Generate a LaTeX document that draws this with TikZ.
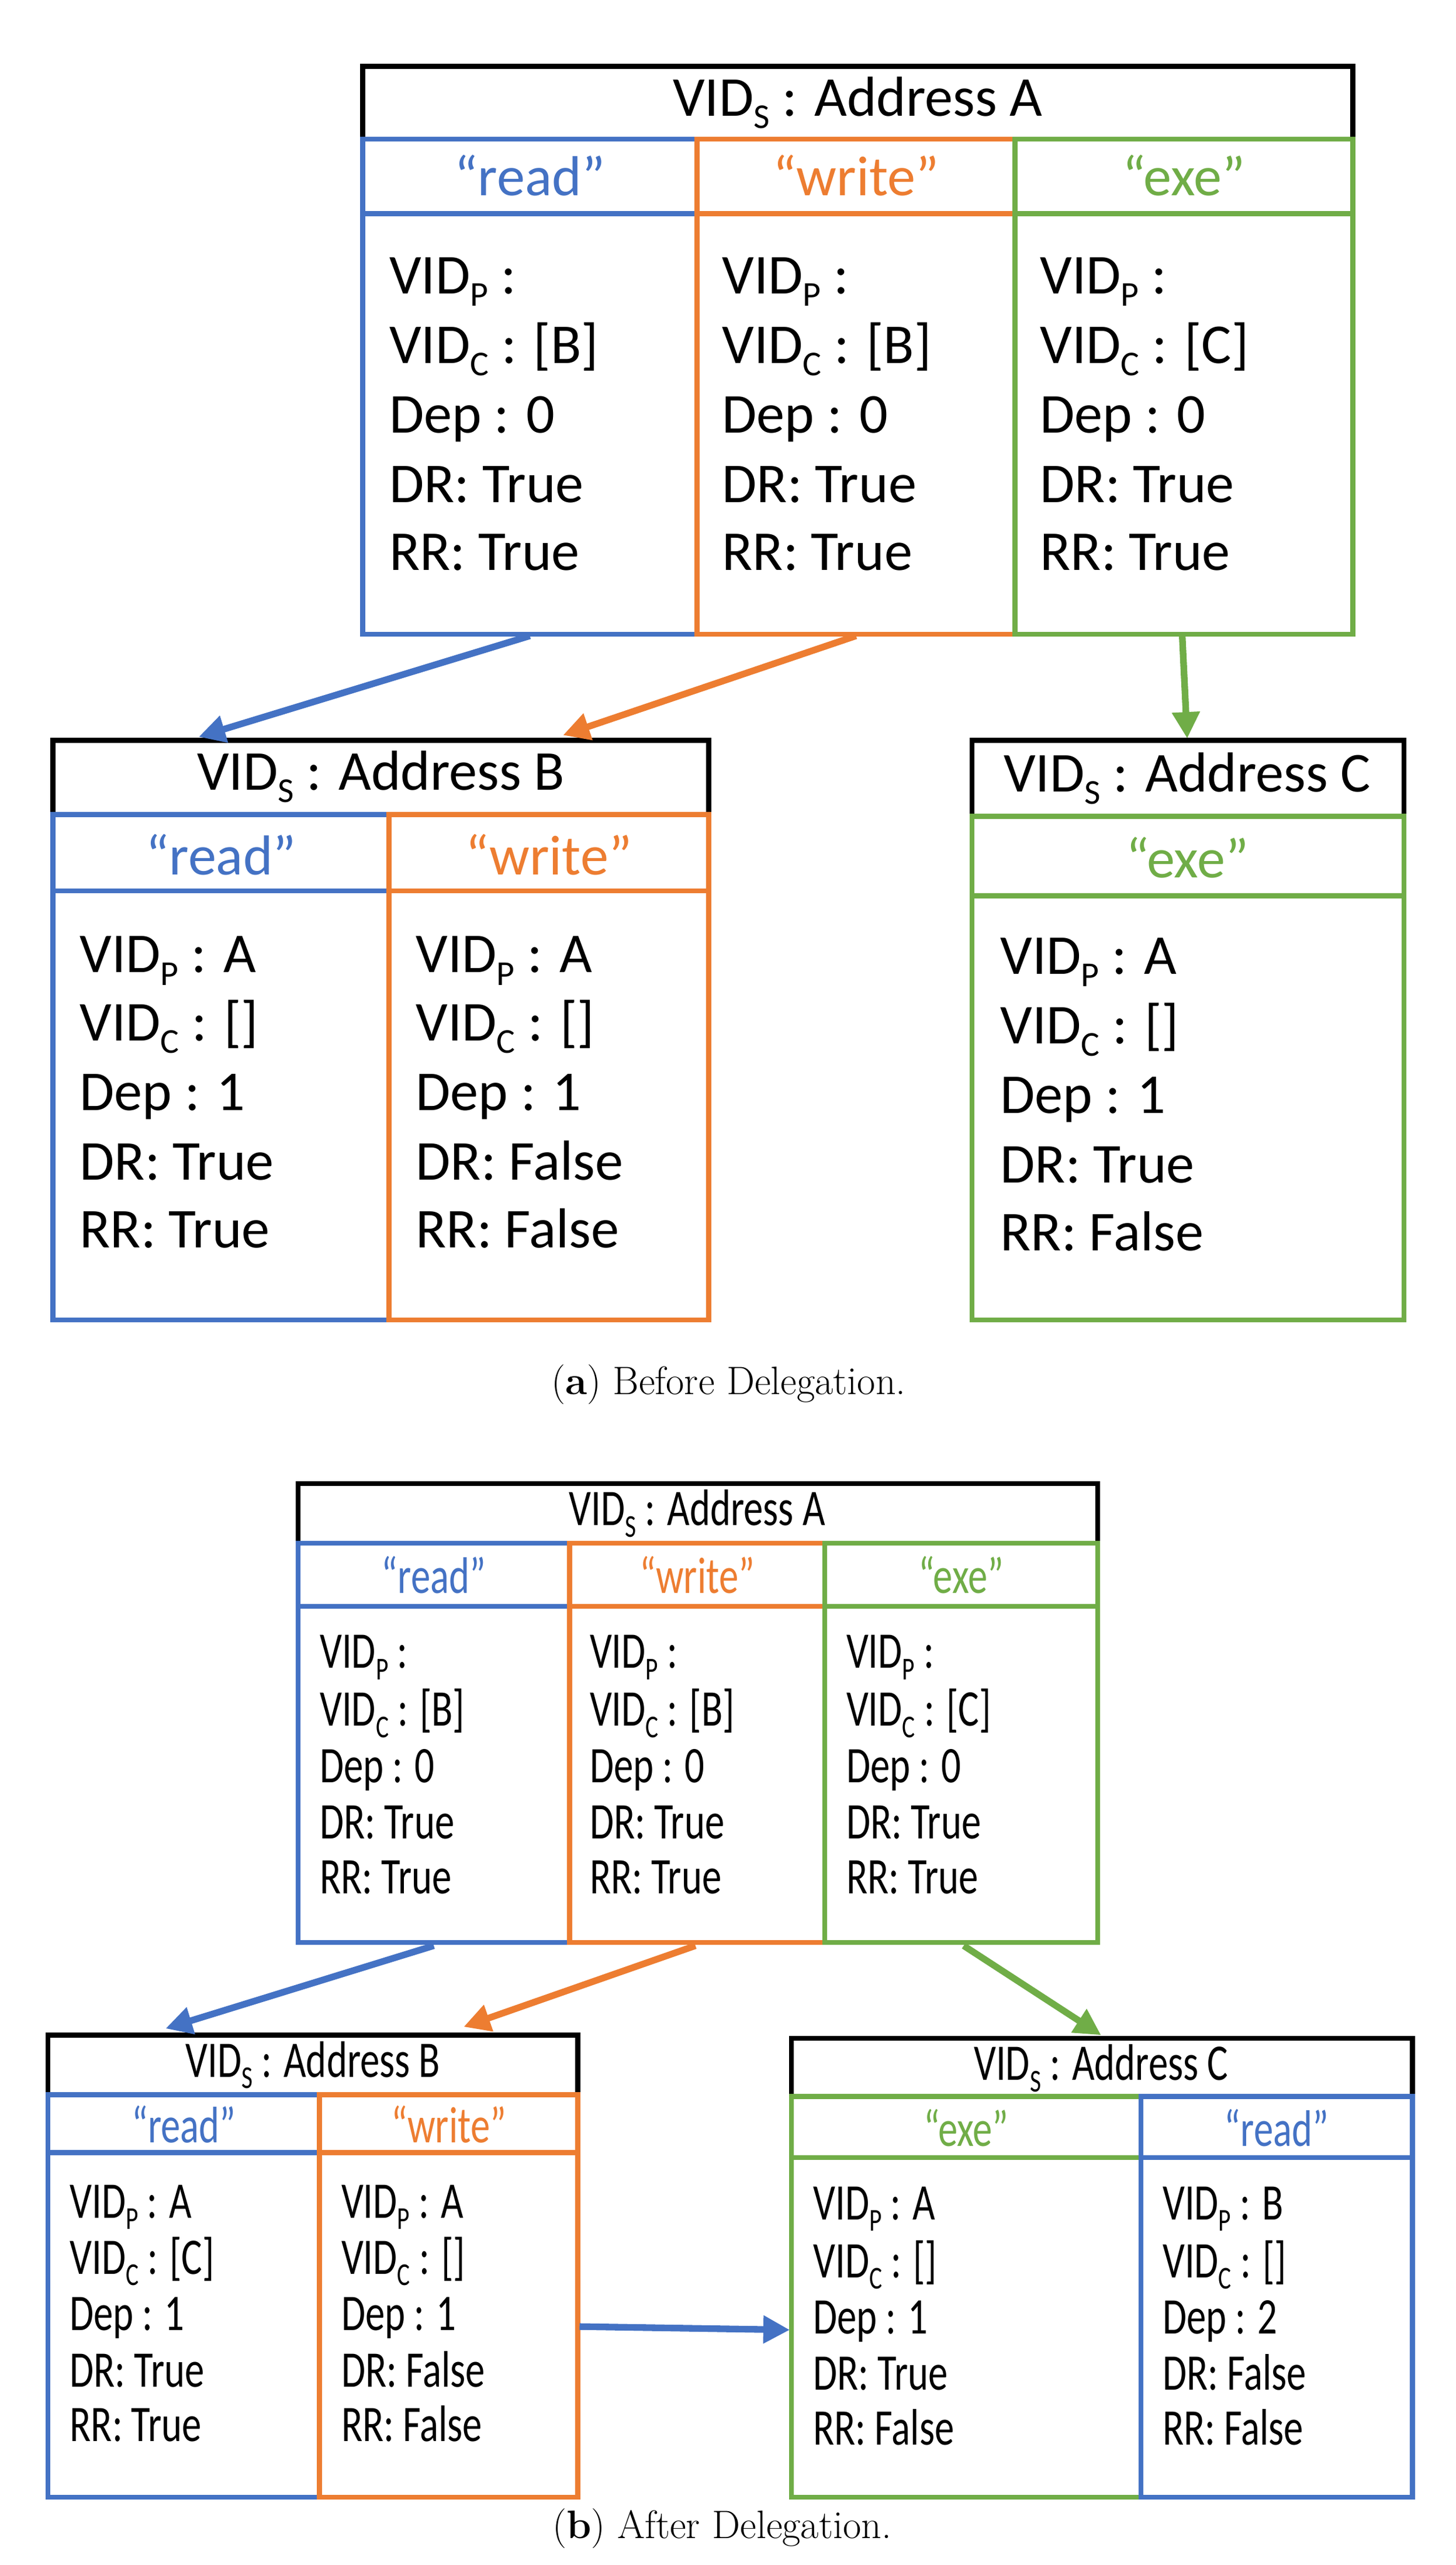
\documentclass[tikz,border=0pt]{standalone}
\usepackage{fontspec}
\setmainfont{Carlito}
\newfontfamily\condf{Carlito}[FakeStretch=0.76]
\newfontfamily\capf{Latin Modern Roman}
\usetikzlibrary{fit,arrows.meta}
\definecolor{cb}{HTML}{4472C4}
\definecolor{co}{HTML}{ED7D31}
\definecolor{cg}{HTML}{70AD47}
\newcommand\mysub[1]{\raisebox{-0.22em}{\scalebox{0.62}{#1}}}
\begin{document}
\begin{tikzpicture}[x=1pt,y=-1pt,
  box/.style={draw=#1,line width=3pt,inner sep=0pt},
  ta/.style={inner sep=0pt,font=\fontsize{34}{40}\selectfont},
  tb/.style={inner sep=0pt,font=\fontsize{31}{36}\condf},
  arr/.style={draw=#1,line width=4pt,-{Triangle[length=16pt,width=16pt]},color=#1}]
\useasboundingbox (0,0) rectangle (879,1549);
% ---------- (a) ----------
\node[box=black,fit={(219,40)(817,84)}] (aAt) {};
\node[ta] (aAtt) at (518,62) {VID\mysub{S} : Address A};
\foreach \n/\c/\xa/\xb/\h in {R/cb/219/421/read,W/co/421/613/write,E/cg/613/817/exe}{
  \node[box=\c,fit={(\xa,84)(\xb,129)}] (aAh\n) {};
  \node[ta,text=\c] (aAht\n) at ({(\xa+\xb)/2},106) {“\h”};
  \node[box=\c,fit={(\xa,129)(\xb,383)}] (aAb\n) {};
}
\foreach \x/\n/\v in {235/R/{[B]},436/W/{[B]},628/E/{[C]}}{
  \node[ta,anchor=mid west] (aA1\n) at (\x,175) {VID\mysub{P} :};
  \node[ta,anchor=mid west] (aA2\n) at (\x,217) {VID\mysub{C} : \v};
  \node[ta,anchor=mid west] (aA3\n) at (\x,259) {Dep : 0};
  \node[ta,anchor=mid west] (aA4\n) at (\x,301) {DR: True};
  \node[ta,anchor=mid west] (aA5\n) at (\x,342) {RR: True};
}
\node[box=black,fit={(32,447)(428,492)}] (aBt) {};
\node[ta] (aBtt) at (230,469) {VID\mysub{S} : Address B};
\foreach \n/\c/\xa/\xb/\h in {R/cb/32/235/read,W/co/235/428/write}{
  \node[box=\c,fit={(\xa,492)(\xb,538)}] (aBh\n) {};
  \node[ta,text=\c] (aBht\n) at ({(\xa+\xb)/2},516) {“\h”};
  \node[box=\c,fit={(\xa,538)(\xb,797)}] (aBb\n) {};
}
\foreach \x/\n/\d in {48/R/True,251/W/False}{
  \node[ta,anchor=mid west] (aB1\n) at (\x,585) {VID\mysub{P} : A};
  \node[ta,anchor=mid west] (aB2\n) at (\x,626) {VID\mysub{C} : []};
  \node[ta,anchor=mid west] (aB3\n) at (\x,668) {Dep : 1};
  \node[ta,anchor=mid west] (aB4\n) at (\x,710) {DR: \d};
  \node[ta,anchor=mid west] (aB5\n) at (\x,751) {RR: \d};
}
\node[box=black,fit={(587,447)(848,493)}] (aCt) {};
\node[ta] (aCtt) at (717,470) {VID\mysub{S} : Address C};
\node[box=cg,fit={(587,493)(848,541)}] (aChE) {};
\node[ta,text=cg] (aChtE) at (717,518) {“exe”};
\node[box=cg,fit={(587,541)(848,797)}] (aCbE) {};
\node[ta,anchor=mid west] (aC1) at (604,586) {VID\mysub{P} : A};
\node[ta,anchor=mid west] (aC2) at (604,628) {VID\mysub{C} : []};
\node[ta,anchor=mid west] (aC3) at (604,670) {Dep : 1};
\node[ta,anchor=mid west] (aC4) at (604,712) {DR: True};
\node[ta,anchor=mid west] (aC5) at (604,753) {RR: False};
\coordinate (a1s) at (320,384); \coordinate (a1e) at (120,445);
\coordinate (a2s) at (517,384); \coordinate (a2e) at (340,444);
\coordinate (a3s) at (714,384); \coordinate (a3e) at (717,446);
\draw[arr=cb] (a1s) -- (a1e);
\draw[arr=co] (a2s) -- (a2e);
\draw[arr=cg] (a3s) -- (a3e);
\node[font=\fontsize{24}{28}\capf,anchor=base,inner sep=0pt] (capa) at (440,842) {(\textbf{a}) Before Delegation.};
% ---------- (b) ----------
\node[box=black,fit={(180,896)(663,932)}] (bAt) {};
\node[tb] (bAtt) at (421,914) {VID\mysub{S} : Address A};
\foreach \n/\c/\xa/\xb/\h in {R/cb/180/344/read,W/co/344/498/write,E/cg/498/663/exe}{
  \node[box=\c,fit={(\xa,932)(\xb,970)}] (bAh\n) {};
  \node[tb,text=\c] (bAht\n) at ({(\xa+\xb)/2},951) {“\h”};
  \node[box=\c,fit={(\xa,970)(\xb,1173)}] (bAb\n) {};
}
\foreach \x/\n/\v in {193/R/{[B]},356/W/{[B]},511/E/{[C]}}{
  \node[tb,anchor=mid west] (bA1\n) at (\x,1005) {VID\mysub{P} :};
  \node[tb,anchor=mid west] (bA2\n) at (\x,1040) {VID\mysub{C} : \v};
  \node[tb,anchor=mid west] (bA3\n) at (\x,1074) {Dep : 0};
  \node[tb,anchor=mid west] (bA4\n) at (\x,1108) {DR: True};
  \node[tb,anchor=mid west] (bA5\n) at (\x,1141) {RR: True};
}
\node[box=black,fit={(29,1229)(349,1265)}] (bBt) {};
\node[tb] (bBtt) at (189,1247) {VID\mysub{S} : Address B};
\foreach \n/\c/\xa/\xb/\h in {R/cb/29/193/read,W/co/193/349/write}{
  \node[box=\c,fit={(\xa,1265)(\xb,1300)}] (bBh\n) {};
  \node[tb,text=\c] (bBht\n) at ({(\xa+\xb)/2},1283) {“\h”};
  \node[box=\c,fit={(\xa,1300)(\xb,1508)}] (bBb\n) {};
}
\foreach \x/\n/\v/\d in {42/R/{[C]}/True,206/W/{[]}/False}{
  \node[tb,anchor=mid west] (bB1\n) at (\x,1337) {VID\mysub{P} : A};
  \node[tb,anchor=mid west] (bB2\n) at (\x,1371) {VID\mysub{C} : \v};
  \node[tb,anchor=mid west] (bB3\n) at (\x,1405) {Dep : 1};
  \node[tb,anchor=mid west] (bB4\n) at (\x,1439) {DR: \d};
  \node[tb,anchor=mid west] (bB5\n) at (\x,1472) {RR: \d};
}
\node[box=black,fit={(478,1231)(853,1266)}] (bCt) {};
\node[tb] (bCtt) at (665,1249) {VID\mysub{S} : Address C};
\foreach \n/\c/\xa/\xb/\h in {E/cg/478/689/exe,R/cb/689/853/read}{
  \node[box=\c,fit={(\xa,1266)(\xb,1303)}] (bCh\n) {};
  \node[tb,text=\c] (bCht\n) at ({(\xa+\xb)/2},1285) {“\h”};
  \node[box=\c,fit={(\xa,1303)(\xb,1508)}] (bCb\n) {};
}
\foreach \x/\n/\p/\dd/\d/\r in {491/E/A/1/True/False,702/R/B/2/False/False}{
  \node[tb,anchor=mid west] (bC1\n) at (\x,1338) {VID\mysub{P} : \p};
  \node[tb,anchor=mid west] (bC2\n) at (\x,1373) {VID\mysub{C} : []};
  \node[tb,anchor=mid west] (bC3\n) at (\x,1407) {Dep : \dd};
  \node[tb,anchor=mid west] (bC4\n) at (\x,1441) {DR: \d};
  \node[tb,anchor=mid west] (bC5\n) at (\x,1474) {RR: \r};
}
\coordinate (b1s) at (262,1175); \coordinate (b1e) at (100,1225);
\coordinate (b2s) at (420,1175); \coordinate (b2e) at (280,1224);
\coordinate (b3s) at (582,1175); \coordinate (b3e) at (665,1229);
\coordinate (b4s) at (350,1405); \coordinate (b4e) at (477,1407);
\draw[arr=cb] (b1s) -- (b1e);
\draw[arr=co] (b2s) -- (b2e);
\draw[arr=cg] (b3s) -- (b3e);
\draw[arr=cb] (b4s) -- (b4e);
\node[font=\fontsize{24}{28}\capf,anchor=base,inner sep=0pt] (capb) at (436,1533) {(\textbf{b}) After Delegation.};
\end{tikzpicture}
\end{document}
